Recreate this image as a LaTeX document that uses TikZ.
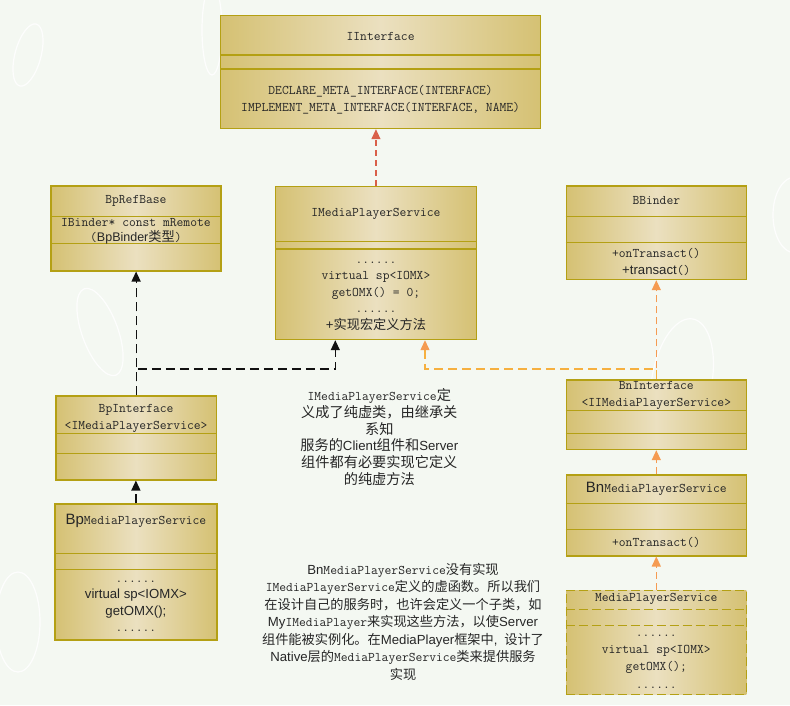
\documentclass[tikz,border=0pt]{standalone}
\usepackage{fontspec}
\setmainfont{Liberation Sans}
\newfontfamily\zhf{Noto Sans CJK SC}
\usetikzlibrary{arrows.meta,calc}
\definecolor{bgc}{HTML}{F4F8F2}
\definecolor{bord}{HTML}{B4A014}
\definecolor{fedge}{HTML}{D5C173}
\definecolor{fmid}{HTML}{EBE0C0}
\definecolor{redc}{HTML}{D9604A}
\definecolor{orc}{HTML}{F59B52}
\definecolor{yoc}{HTML}{F6B040}
\definecolor{txt}{HTML}{262626}
\definecolor{blk}{HTML}{111111}
\newcommand\zh[1]{{\zhf #1}}
\newcommand\zhb[1]{{\zhf\fontsize{14.2}{16.8}\selectfont #1}}
\newcommand\tx[1]{{\ttfamily #1}}
\newcommand\sa[1]{{\rmfamily #1}}
\newcommand\divline[2]{\draw[divl] (#1.west |- 0,#2) -- (#1.east |- 0,#2);}
\newcommand\divdash[2]{\draw[divl,dash pattern=on 9pt off 4pt] (#1.west |- 0,#2) -- (#1.east |- 0,#2);}
\tikzset{
  umlbox/.style={rectangle, draw=bord, line width=1.2pt, inner sep=0pt, anchor=north west,
    left color=fedge, right color=fedge, middle color=fmid},
  divl/.style={draw=bord, line width=1.2pt},
  tl/.style={text=txt, inner sep=0pt, align=center, font=\ttfamily\fontsize{13.2}{16.5}\selectfont},
  blkcon/.style={-{Triangle[width=9pt,length=10pt,color=blk]}, draw=blk, line width=1.2pt, dash pattern=on 9pt off 5pt},
  redcon/.style={-{Triangle[width=9pt,length=10pt,color=redc]}, draw=redc, line width=1.2pt, dash pattern=on 6pt off 4pt},
  orcon/.style={-{Triangle[width=9pt,length=10pt,color=orc]}, draw=orc, line width=1.2pt, dash pattern=on 7pt off 4pt},
  yocon/.style={-{Triangle[width=9pt,length=10pt,color=orc]}, draw=yoc, line width=1.2pt, dash pattern=on 9pt off 5pt},
  swirl/.style={draw=white, line width=1.2pt, opacity=0.85},
}
\begin{document}
\begin{tikzpicture}[x=1pt,y=-1pt]
\useasboundingbox (0,0) rectangle (790,705);
\fill[bgc] (0,0) rectangle (790,705);
% faint decorative swirls
\draw[swirl] (28,55) ellipse [x radius=13, y radius=32, rotate=-15];
\draw[swirl] (100,332) ellipse [x radius=18, y radius=46, rotate=20];
\draw[swirl] (18,622) ellipse [x radius=22, y radius=50];
\draw[swirl] (682,380) ellipse [x radius=30, y radius=62, rotate=-10];
\draw[swirl] (795,215) ellipse [x radius=22, y radius=38];
\draw[swirl] (212,30) ellipse [x radius=10, y radius=45];

% IInterface
\node[umlbox, minimum width=320pt, minimum height=113pt] (ii) at (220,15) {};
\divline{ii}{55}\divline{ii}{69}
\node[tl] (iit) at (ii.center |- 0,36) {IInterface};
\node[tl, font=\ttfamily\fontsize{13.2}{17}\selectfont] (iio) at (ii.center |- 0,99.5)
  {DECLARE\_META\_INTERFACE(INTERFACE)\\IMPLEMENT\_META\_INTERFACE(INTERFACE, NAME)};

% IMediaPlayerService
\node[umlbox, minimum width=200.7pt, minimum height=153.5pt] (ims) at (275,185.5) {};
\divline{ims}{241.7}\divline{ims}{249}
\node[tl] (imst) at (ims.center |- 0,214) {IMediaPlayerService};
\node[tl] (imso) at (ims.center |- 0,296)
  {......\\virtual sp<IOMX>\\getOMX() = 0;\\......\\\sa{+}\zh{实现宏定义方法}};

% BpRefBase
\node[umlbox, minimum width=170pt, minimum height=85pt] (brb) at (50.3,185.3) {};
\divline{brb}{216.7}\divline{brb}{243.7}
\node[tl] (brbt) at (brb.center |- 0,201) {BpRefBase};
\node[tl, font=\ttfamily\fontsize{13.2}{15}\selectfont] (brba) at (brb.center |- 0,230.8)
  {IBinder* const mRemote\\(\sa{\fontsize{12.5}{15}\selectfont BpBinder}\zh{类型})};

% BBinder
\node[umlbox, minimum width=180pt, minimum height=93.7pt] (bb) at (565.7,185.3) {};
\divline{bb}{216.7}\divline{bb}{242.7}
\node[tl] (bbt) at (bb.center |- 0,200.7) {BBinder};
\node[tl, font=\ttfamily\fontsize{13.2}{16.7}\selectfont] (bbo) at (bb.center |- 0,262.3)
  {+onTransact()\\\sa{+transact}()};

% BnInterface
\node[umlbox, minimum width=180pt, minimum height=69.7pt] (bni) at (565.7,379.3) {};
\divline{bni}{410.3}\divline{bni}{433.7}
\node[tl, font=\ttfamily\fontsize{13.2}{16.7}\selectfont] (bnit) at (bni.center |- 0,395.7)
  {BnInterface\\<IIMediaPlayerService>};

% BnMediaPlayerService
\node[umlbox, minimum width=180pt, minimum height=81pt] (bnm) at (565.7,474.3) {};
\divline{bnm}{503.3}\divline{bnm}{529.3}
\node[tl] (bnmt) at (bnm.center |- 0,489.3) {\sa{\fontsize{15}{16}\selectfont Bn}MediaPlayerService};
\node[tl] (bnmo) at (bnm.center |- 0,542.7) {+onTransact()};

% MediaPlayerService (dashed)
\node[umlbox, dash pattern=on 9pt off 4pt, minimum width=180pt, minimum height=103.9pt] (mps) at (565.7,589.6) {};
\divdash{mps}{609.2}\divdash{mps}{625.7}
\node[tl] (mpst) at (mps.center |- 0,599.2) {MediaPlayerService};
\node[tl, font=\ttfamily\fontsize{13.2}{17.4}\selectfont] (mpso) at (mps.center |- 0,661.5)
  {......\\virtual sp<IOMX>\\getOMX();\\......};

% BpInterface
\node[umlbox, minimum width=160.4pt, minimum height=84pt] (bpi) at (55.3,395.3) {};
\divline{bpi}{433.3}\divline{bpi}{453.3}
\node[tl, font=\ttfamily\fontsize{13.2}{16.7}\selectfont] (bpit) at (bpi.center |- 0,418.3)
  {BpInterface\\<IMediaPlayerService>};

% BpMediaPlayerService
\node[umlbox, minimum width=162pt, minimum height=136pt] (bpm) at (54.3,503.3) {};
\divline{bpm}{553.3}\divline{bpm}{569.3}
\node[tl] (bpmt) at (bpm.center |- 0,520.7) {\sa{\fontsize{15}{16}\selectfont Bp}MediaPlayerService};
\node[tl, font=\ttfamily\fontsize{13.2}{16.3}\selectfont] (bpmo) at (bpm.center |- 0,606.2)
  {......\\\sa{virtual sp<IOMX>}\\\sa{getOMX();}\\......};

% annotation texts
\node[tl, font=\ttfamily\fontsize{13.2}{16.8}\selectfont] (note1) at (379.3,437)
  {IMediaPlayerService\zhb{定}\\\zhb{义成了纯虚类，由继承关}\\\zhb{系知}\\
   \zhb{服务的}\sa{Client}\zhb{组件和}\sa{Server}\\\zhb{组件都有必要实现它定义}\\\zhb{的纯虚方法}};
\node[tl, font=\ttfamily\fontsize{13.2}{17.5}\selectfont] (note2) at (403,621.5)
  {\sa{Bn}MediaPlayerService\zh{没有实现}\\
   IMediaPlayerService\zh{定义的虚函数。所以我们}\\
   \zh{在设计自己的服务时，也许会定义一个子类，如}\\
   \sa{My}IMediaPlayer\zh{来实现这些方法，以使}\sa{Server}\\
   \zh{组件能被实例化。在}\sa{MediaPlayer}\zh{框架中}\sa{,} \zh{设计了}\\
   \sa{Native}\zh{层的}MediaPlayerService\zh{类来提供服务}\\
   \zh{实现}};

% connectors
\coordinate (c1) at (335.3,369);
\coordinate (c2) at (425,369);
\draw[redcon] (ims.north) -- (ims.north |- ii.south);
\draw[blkcon] (bpi.north) -- (bpi.north |- brb.south);
\draw[blkcon] (bpi.north) |- (c1) -- (c1 |- ims.south);
\draw[blkcon] (bpm.north) -- (bpm.north |- bpi.south);
\draw[orcon] (bni.north) -- (bni.north |- bb.south);
\draw[yocon] (bni.north) |- (c2) -- (c2 |- ims.south);
\draw[orcon] (bnm.north) -- (bnm.north |- bni.south);
\draw[orcon] (mps.north) -- (mps.north |- bnm.south);
\end{tikzpicture}
\end{document}
